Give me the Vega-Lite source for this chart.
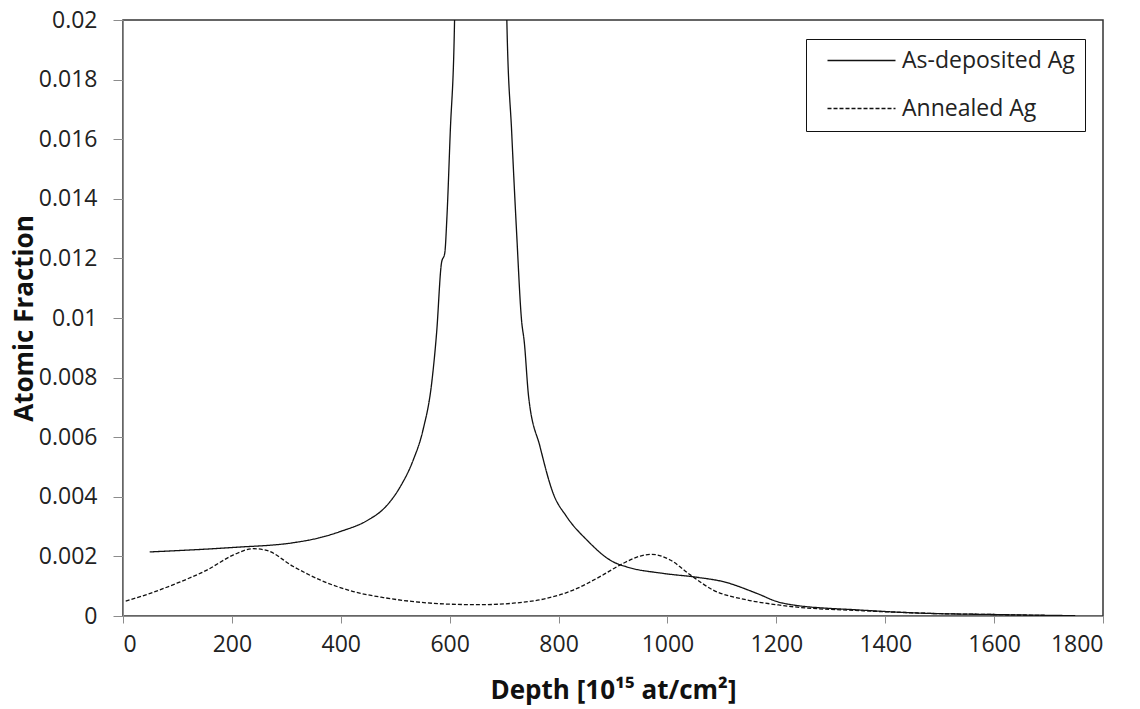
{
  "$schema": "https://vega.github.io/schema/vega-lite/v6.json",
  "width": 980,
  "height": 596,
  "autosize": {"type": "none"},
  "padding": {"left": 123, "top": 20, "right": 37, "bottom": 93},
  "background": "white",
  "config": {
    "font": "Open Sans",
    "view": {"stroke": "#333333", "strokeWidth": 1.5},
    "axis": {"grid": false, "domainColor": "#8c8c8c", "tickColor": "#8c8c8c", "labelColor": "#222222", "titleColor": "#111111", "labelFont": "Open Sans", "titleFont": "Open Sans", "labelFontSize": 23, "titleFontSize": 26, "titleFontWeight": "bold"}
  },
  "data": {
    "values": [
      {"series": "As-deposited Ag", "depth": 49, "value": 0.00215},
      {"series": "As-deposited Ag", "depth": 202, "value": 0.0023},
      {"series": "As-deposited Ag", "depth": 313, "value": 0.00246},
      {"series": "As-deposited Ag", "depth": 350, "value": 0.00258},
      {"series": "As-deposited Ag", "depth": 400, "value": 0.00284},
      {"series": "As-deposited Ag", "depth": 450, "value": 0.00322},
      {"series": "As-deposited Ag", "depth": 480, "value": 0.00362},
      {"series": "As-deposited Ag", "depth": 508, "value": 0.0043},
      {"series": "As-deposited Ag", "depth": 533, "value": 0.00523},
      {"series": "As-deposited Ag", "depth": 551, "value": 0.00624},
      {"series": "As-deposited Ag", "depth": 567, "value": 0.00782},
      {"series": "As-deposited Ag", "depth": 576, "value": 0.0095},
      {"series": "As-deposited Ag", "depth": 585, "value": 0.01185},
      {"series": "As-deposited Ag", "depth": 591, "value": 0.01218},
      {"series": "As-deposited Ag", "depth": 595, "value": 0.0134},
      {"series": "As-deposited Ag", "depth": 601, "value": 0.0162},
      {"series": "As-deposited Ag", "depth": 609, "value": 0.02},
      {"series": "As-deposited Ag", "depth": 613, "value": 0.026},
      {"series": "As-deposited Ag", "depth": 655, "value": 0.06},
      {"series": "As-deposited Ag", "depth": 702, "value": 0.026},
      {"series": "As-deposited Ag", "depth": 705, "value": 0.02},
      {"series": "As-deposited Ag", "depth": 714, "value": 0.0162},
      {"series": "As-deposited Ag", "depth": 723, "value": 0.01285},
      {"series": "As-deposited Ag", "depth": 732, "value": 0.00993},
      {"series": "As-deposited Ag", "depth": 737, "value": 0.0092},
      {"series": "As-deposited Ag", "depth": 745, "value": 0.00736},
      {"series": "As-deposited Ag", "depth": 766, "value": 0.00568},
      {"series": "As-deposited Ag", "depth": 790, "value": 0.00412},
      {"series": "As-deposited Ag", "depth": 815, "value": 0.00333},
      {"series": "As-deposited Ag", "depth": 852, "value": 0.00255},
      {"series": "As-deposited Ag", "depth": 900, "value": 0.00182},
      {"series": "As-deposited Ag", "depth": 925, "value": 0.00165},
      {"series": "As-deposited Ag", "depth": 992, "value": 0.00143},
      {"series": "As-deposited Ag", "depth": 1054, "value": 0.0013},
      {"series": "As-deposited Ag", "depth": 1103, "value": 0.00115},
      {"series": "As-deposited Ag", "depth": 1164, "value": 0.00076},
      {"series": "As-deposited Ag", "depth": 1202, "value": 0.00048},
      {"series": "As-deposited Ag", "depth": 1231, "value": 0.00037},
      {"series": "As-deposited Ag", "depth": 1354, "value": 0.0002},
      {"series": "As-deposited Ag", "depth": 1476, "value": 0.00009},
      {"series": "As-deposited Ag", "depth": 1598, "value": 0.00005},
      {"series": "As-deposited Ag", "depth": 1749, "value": 0.00001},
      {"series": "Annealed Ag", "depth": 5, "value": 0.0005},
      {"series": "Annealed Ag", "depth": 50, "value": 0.00076},
      {"series": "Annealed Ag", "depth": 99, "value": 0.0011},
      {"series": "Annealed Ag", "depth": 154, "value": 0.00154},
      {"series": "Annealed Ag", "depth": 203, "value": 0.00205},
      {"series": "Annealed Ag", "depth": 239, "value": 0.00226},
      {"series": "Annealed Ag", "depth": 264, "value": 0.0022},
      {"series": "Annealed Ag", "depth": 313, "value": 0.00166},
      {"series": "Annealed Ag", "depth": 362, "value": 0.00121},
      {"series": "Annealed Ag", "depth": 423, "value": 0.00082},
      {"series": "Annealed Ag", "depth": 478, "value": 0.00062},
      {"series": "Annealed Ag", "depth": 530, "value": 0.00049},
      {"series": "Annealed Ag", "depth": 595, "value": 0.0004},
      {"series": "Annealed Ag", "depth": 656, "value": 0.00038},
      {"series": "Annealed Ag", "depth": 717, "value": 0.00043},
      {"series": "Annealed Ag", "depth": 778, "value": 0.00059},
      {"series": "Annealed Ag", "depth": 827, "value": 0.00087},
      {"series": "Annealed Ag", "depth": 876, "value": 0.00132},
      {"series": "Annealed Ag", "depth": 919, "value": 0.00177},
      {"series": "Annealed Ag", "depth": 950, "value": 0.00201},
      {"series": "Annealed Ag", "depth": 971, "value": 0.00207},
      {"series": "Annealed Ag", "depth": 1005, "value": 0.00188},
      {"series": "Annealed Ag", "depth": 1042, "value": 0.00138},
      {"series": "Annealed Ag", "depth": 1084, "value": 0.00087},
      {"series": "Annealed Ag", "depth": 1146, "value": 0.00054},
      {"series": "Annealed Ag", "depth": 1204, "value": 0.00037},
      {"series": "Annealed Ag", "depth": 1231, "value": 0.00031},
      {"series": "Annealed Ag", "depth": 1354, "value": 0.00018},
      {"series": "Annealed Ag", "depth": 1476, "value": 0.00009},
      {"series": "Annealed Ag", "depth": 1598, "value": 0.00005},
      {"series": "Annealed Ag", "depth": 1721, "value": 0.00001},
      {"series": "Annealed Ag", "depth": 1750, "value": 0.000005}
    ]
  },
  "mark": {"type": "line", "clip": true, "color": "#111111", "strokeWidth": 1.3, "interpolate": "monotone"},
  "encoding": {
    "x": {
      "field": "depth", "type": "quantitative",
      "scale": {"domain": [0, 1800], "nice": false, "zero": false},
      "axis": {"values": [0, 200, 400, 600, 800, 1000, 1200, 1400, 1600, 1800], "format": "d", "tickSize": 7, "labelPadding": 10, "title": "Depth [10¹⁵ at/cm²]", "titleX": 490, "titleY": 74, "titleBaseline": "middle", "titleAlign": "center"}
    },
    "y": {
      "field": "value", "type": "quantitative",
      "scale": {"domain": [0, 0.02], "nice": false},
      "axis": {"values": [0, 0.002, 0.004, 0.006, 0.008, 0.01, 0.012, 0.014, 0.016, 0.018, 0.02], "format": "~g", "tickSize": 10, "labelPadding": 16, "title": "Atomic Fraction", "titleX": -99, "titleY": 298, "titleAngle": 270, "titleBaseline": "middle", "titleAlign": "center"}
    },
    "strokeDash": {
      "field": "series", "type": "nominal",
      "scale": {"domain": ["As-deposited Ag", "Annealed Ag"], "range": [[1, 0], [4, 2]]},
      "legend": {
        "title": null, "orient": "none", "legendX": 683, "legendY": 19,
        "strokeColor": "#111111", "fillColor": "white", "padding": 10,
        "symbolType": "M0,0H8.5", "symbolSize": 256, "symbolStrokeColor": "#111111", "symbolStrokeWidth": 1.3,
        "labelFont": "Open Sans", "labelFontSize": 23, "labelColor": "#222222", "labelOffset": 63, "labelLimit": 400,
        "rowPadding": 24
      }
    }
  }
}
